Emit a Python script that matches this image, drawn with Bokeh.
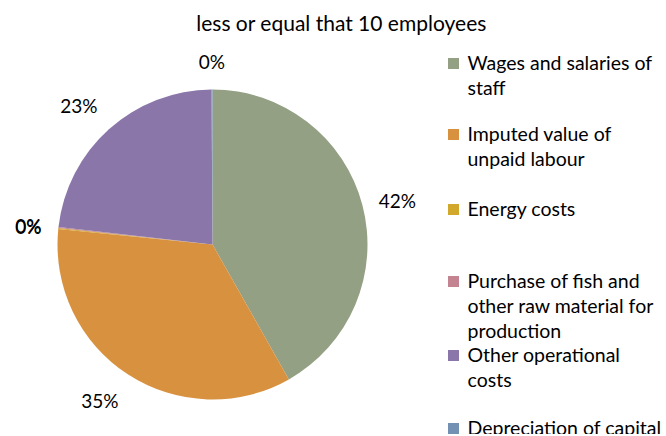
import math
from bokeh.plotting import figure
from bokeh.models import Range1d, ColumnDataSource
from bokeh.core.properties import value
from bokeh.embed import file_html
from bokeh.resources import INLINE

title_text = "less or equal that 10 employees"
categories = ["Wages and salaries of staff", "Imputed value of unpaid labour", "Energy costs",
              "Purchase of fish and other raw material for production", "Other operational costs",
              "Depreciation of capital"]
legend_lines = [["Wages and salaries of", "staff"], ["Imputed value of", "unpaid labour"], ["Energy costs"],
                ["Purchase of fish and", "other raw material for", "production"],
                ["Other operational", "costs"], ["Depreciation of capital"]]
shares = [41.8, 34.8, 0.1, 0.1, 23.1, 0.1]
colors = ["#94A084", "#D8913F", "#D2A82C", "#C38391", "#8A76A9", "#7291B3"]

W, H = 664, 434
FONT = value("Lato")

def X(px):
    return px

def Y(py):
    return H - py

p = figure(width=W, height=H, output_backend="svg", toolbar_location=None,
           x_range=Range1d(0, W), y_range=Range1d(0, H), min_border=0)
p.axis.visible = False
p.grid.visible = False
p.outline_line_color = None
p.background_fill_color = "white"

cx, cy, r = X(212), Y(244), 155
total = sum(shares)
starts, ends, mids = [], [], []
c = 0.0
for s in shares:
    c0 = c / total
    c += s
    c1 = c / total
    starts.append(math.pi / 2 - 2 * math.pi * c0)
    ends.append(math.pi / 2 - 2 * math.pi * c1)
    mids.append(math.pi / 2 - 2 * math.pi * (c0 + c1) / 2)

src = ColumnDataSource(dict(start=starts, end=ends, color=colors, name=categories))
p.wedge(x=cx, y=cy, radius=r, start_angle="start", end_angle="end", direction="clock",
        fill_color="color", line_color=None, source=src)

# percentage labels
lx, ly, lt, la, lb = [], [], [], [], []
for s, m in zip(shares, mids):
    dx, dy = math.cos(m), math.sin(m)
    lx.append(cx + (r + 17) * dx)
    ly.append(cy + (r + 17) * dy)
    lt.append(f"{round(s / total * 100):.0f}%")
    la.append("left" if dx > 0.3 else ("right" if dx < -0.3 else "center"))
    lb.append("bottom" if dy > 0.3 else ("top" if dy < -0.3 else "middle"))
p.text(x=lx, y=ly, text=lt, text_align=la, text_baseline=lb, text_font=FONT,
       text_font_size="19px", text_color="#000000")

# title
p.text(x=[X(341)], y=[Y(22)], text=[title_text], text_align="center", text_baseline="middle",
       text_font=FONT, text_font_size="21px", text_color="#000000")

# legend
item_first_line_py = [62, 133, 208, 280, 354, 427]
line_gap = 25
sq_x, sq_y, tx, ty, tt = [], [], [], [], []
for lines, py, col in zip(legend_lines, item_first_line_py, colors):
    sq_x.append(X(453))
    sq_y.append(Y(py + 1))
    for k, ln in enumerate(lines):
        tx.append(X(467))
        ty.append(Y(py + k * line_gap))
        tt.append(ln)
p.rect(x=sq_x, y=sq_y, width=11, height=11, fill_color=colors, line_color=None)
p.text(x=tx, y=ty, text=tt, text_align="left", text_baseline="middle", text_font=FONT,
       text_font_size="19.5px", text_color="#000000")

open("out.html", "w").write(file_html(p, INLINE))
